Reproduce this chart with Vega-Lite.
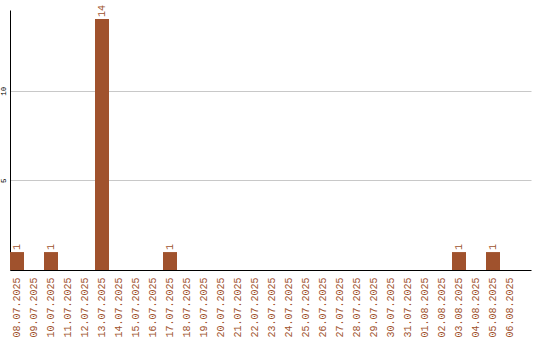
{
  "$schema": "https://vega.github.io/schema/vega-lite/v6.json",
  "width": 521,
  "height": 260,
  "autosize": {"type": "none"},
  "padding": {"left": 10, "top": 10, "right": 9, "bottom": 70},
  "background": "white",
  "config": {
    "view": {"stroke": null},
    "font": "Liberation Mono"
  },
  "data": {
    "values": [
      {"date": "08.07.2025", "count": 1},
      {"date": "09.07.2025", "count": 0},
      {"date": "10.07.2025", "count": 1},
      {"date": "11.07.2025", "count": 0},
      {"date": "12.07.2025", "count": 0},
      {"date": "13.07.2025", "count": 14},
      {"date": "14.07.2025", "count": 0},
      {"date": "15.07.2025", "count": 0},
      {"date": "16.07.2025", "count": 0},
      {"date": "17.07.2025", "count": 1},
      {"date": "18.07.2025", "count": 0},
      {"date": "19.07.2025", "count": 0},
      {"date": "20.07.2025", "count": 0},
      {"date": "21.07.2025", "count": 0},
      {"date": "22.07.2025", "count": 0},
      {"date": "23.07.2025", "count": 0},
      {"date": "24.07.2025", "count": 0},
      {"date": "25.07.2025", "count": 0},
      {"date": "26.07.2025", "count": 0},
      {"date": "27.07.2025", "count": 0},
      {"date": "28.07.2025", "count": 0},
      {"date": "29.07.2025", "count": 0},
      {"date": "30.07.2025", "count": 0},
      {"date": "31.07.2025", "count": 0},
      {"date": "01.08.2025", "count": 0},
      {"date": "02.08.2025", "count": 0},
      {"date": "03.08.2025", "count": 1},
      {"date": "04.08.2025", "count": 0},
      {"date": "05.08.2025", "count": 1},
      {"date": "06.08.2025", "count": 0}
    ]
  },
  "encoding": {
    "x": {
      "field": "date",
      "type": "nominal",
      "sort": null,
      "scale": {"paddingInner": 0.17647, "paddingOuter": 0.41176, "align": 0, "round": false},
      "axis": {
        "title": null,
        "labelAngle": -90,
        "labelAlign": "right",
        "labelBaseline": "middle",
        "labelFont": "Liberation Mono",
        "labelFontSize": 10,
        "labelColor": "#a0522d",
        "labelPadding": 7,
        "ticks": false,
        "domainColor": "#000000",
        "domainWidth": 1,
        "grid": false
      }
    },
    "y": {
      "field": "count",
      "type": "quantitative",
      "scale": {"domain": [0, 14.5], "nice": false, "zero": true},
      "axis": {
        "title": null,
        "values": [5, 10],
        "grid": true,
        "gridColor": "#c8c8c8",
        "gridWidth": 1,
        "ticks": false,
        "domainColor": "#000000",
        "domainWidth": 1,
        "labelAngle": -90,
        "labelAlign": "center",
        "labelBaseline": "bottom",
        "labelPadding": 3,
        "labelFont": "Liberation Mono",
        "labelFontSize": 7.5,
        "labelColor": "#000000"
      }
    }
  },
  "layer": [
    {
      "mark": {"type": "bar", "color": "#a0522d"}
    },
    {
      "transform": [{"filter": "datum.count > 0"}],
      "mark": {
        "type": "text",
        "angle": 270,
        "align": "left",
        "baseline": "middle",
        "dx": 2,
        "font": "Liberation Mono",
        "fontSize": 10,
        "color": "#a0522d"
      },
      "encoding": {
        "text": {"field": "count", "type": "quantitative"}
      }
    }
  ]
}
